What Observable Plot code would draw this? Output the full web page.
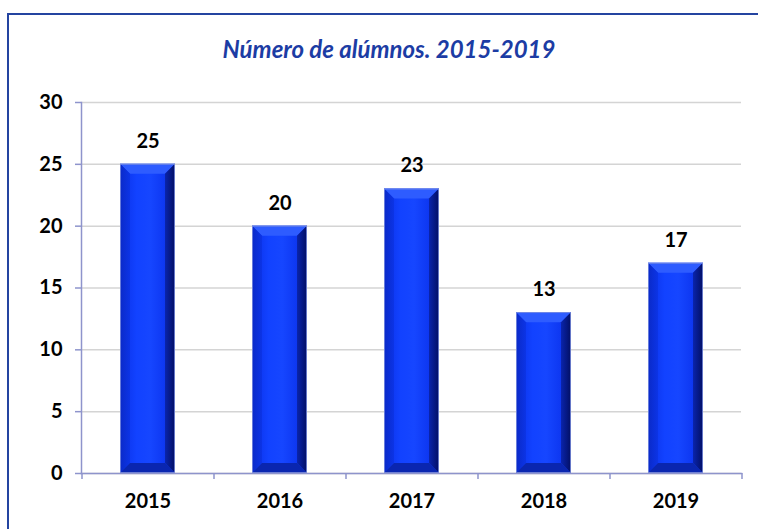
<!DOCTYPE html>
<html>
<head>
<meta charset="utf-8">
<script src="https://cdn.jsdelivr.net/npm/d3@7"></script>
<script src="https://cdn.jsdelivr.net/npm/@observablehq/plot@0.6"></script>
<style>
  html, body { margin: 0; padding: 0; background: #fff; width: 758px; height: 529px; overflow: hidden; }
  #frame { position: absolute; left: 7px; top: 13px; width: 800px; height: 600px; border: 2px solid #2444a0; box-sizing: border-box; }
  #wrap { position: absolute; left: 0; top: 0; width: 758px; }
  #title { height: 80px; box-sizing: border-box; padding-top: 34px; padding-left: 20px; text-align: center;
    font-family: Lato, sans-serif; font-style: italic; font-weight: bold; font-size: 24px; color: #1c3ca4; line-height: 30px; }
</style>
</head>
<body>
<div id="frame"></div>
<div id="wrap">
  <div id="title">Número de alúmnos. 2015-2019</div>
  <div id="chart"></div>
</div>
<script>
const years = ["2015", "2016", "2017", "2018", "2019"];
const values = [25, 20, 23, 13, 17];
const yTicks = [0, 5, 10, 15, 20, 25, 30];

const data = years.map((year, i) => ({year, value: values[i]}));

const W = 758, H = 449;
const mL = 81, mR = 17, mT = 22, mB = 56;
const step = (W - mL - mR) / years.length;
const axisColor = "#8e94cc";
const bev = 10;
const pad = 0.585;

// bevel mark: custom render using the library's computed positions
function bevelRender(index, scales, values, dims, context) {
  const g = d3.create("svg:g");
  const bw = scales.x.bandwidth();
  for (const i of index) {
    const x0 = values.x[i], x1 = x0 + bw;
    const yt = values.y2[i], yb = values.y1[i];
    const top = Math.min(yt, yb), bot = Math.max(yt, yb);
    g.append("polygon").attr("points", `${x0},${top} ${x1},${top} ${x1-bev},${top+bev} ${x0+bev},${top+bev}`).attr("fill", "#2e5cff");
    g.append("polygon").attr("points", `${x1},${top} ${x1},${bot} ${x1-bev},${bot-bev} ${x1-bev},${top+bev}`).attr("fill", "url(#rightGrad)");
    g.append("polygon").attr("points", `${x0},${top} ${x0+bev},${top+bev} ${x0+bev},${bot-bev} ${x0},${bot}`).attr("fill", "url(#leftGrad)");
    g.append("polygon").attr("points", `${x0},${bot} ${x0+bev},${bot-bev} ${x1-bev},${bot-bev} ${x1},${bot}`).attr("fill", "#0a26b0");
    g.append("rect").attr("x", x0 + 0.4).attr("y", top + 0.4).attr("width", bw - 0.8).attr("height", bot - top - 0.8)
      .attr("fill", "none").attr("stroke", "#7f92e0").attr("stroke-width", 0.8);
  }
  return g.node();
}

const chart = Plot.plot({
  width: W,
  height: H,
  marginLeft: mL,
  marginRight: mR,
  marginTop: mT,
  marginBottom: mB,
  style: {fontFamily: "Lato, sans-serif", background: "transparent", color: "#000"},
  x: {domain: years, paddingInner: pad, paddingOuter: pad / 2, align: 0.5, label: null},
  y: {domain: [0, 30], label: null},
  marks: [
    Plot.gridY(yTicks, {stroke: "#d4d4d4", strokeOpacity: 1, strokeWidth: 1.5}),
    Plot.barY(data, {x: "year", y: "value", fill: "url(#faceGrad)"}),
    Plot.barY(data, {x: "year", y: "value", render: bevelRender}),
    Plot.frame({anchor: "left", stroke: axisColor, strokeWidth: 1.5}),
    Plot.frame({anchor: "bottom", stroke: axisColor, strokeWidth: 1.5}),
    Plot.ruleX(years, {x: d => d, y1: 0, y2: 0, insetBottom: -6, dx: -step / 2, stroke: axisColor, strokeWidth: 1.5}),
    Plot.ruleX(years.slice(-1), {x: d => d, y1: 0, y2: 0, insetBottom: -6, dx: step / 2, stroke: axisColor, strokeWidth: 1.5}),
    Plot.axisY({ticks: yTicks, tickSize: 6, tickPadding: 13, fontSize: 20, fontWeight: "bold", stroke: axisColor, fill: "#000", strokeWidth: 1.5, label: null}),
    Plot.axisX({tickSize: 0, tickPadding: 20, fontSize: 20, fontWeight: "bold", fill: "#000", label: null}),
    Plot.text(data, {x: "year", y: "value", text: d => String(d.value), dy: -23, fontSize: 20, fontWeight: "bold", fill: "#000"})
  ]
});

const svg = d3.select(chart);
const defs = svg.insert("defs", ":first-child");
function grad(id, stops) {
  const lg = defs.append("linearGradient").attr("id", id).attr("x1", 0).attr("x2", 1).attr("y1", 0).attr("y2", 0);
  for (const [o, c] of stops) lg.append("stop").attr("offset", o).attr("stop-color", c);
}
grad("faceGrad", [["0%", "#0a30e6"], ["30%", "#1242ff"], ["55%", "#1646ff"], ["80%", "#0e38f2"], ["100%", "#0a2ed8"]]);
grad("rightGrad", [["0%", "#0a24ac"], ["100%", "#020f64"]]);
grad("leftGrad", [["0%", "#0a2ac8"], ["100%", "#0c34e6"]]);

document.getElementById("chart").appendChild(chart);
</script>
</body>
</html>
